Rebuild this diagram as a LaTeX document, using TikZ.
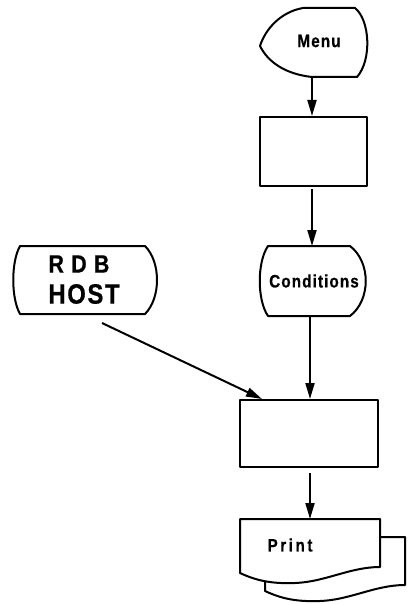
\documentclass[tikz,border=0pt]{standalone}
\usepackage{fontspec}
\setmainfont{Liberation Sans}
\newfontfamily\lblfont{Liberation Sans}[FakeStretch=0.85,FakeBold=0.6]
\usetikzlibrary{arrows.meta}
\begin{document}
\begin{tikzpicture}[x=1pt,y=-1pt, line width=2pt, line join=round,
  arr/.style={-{Triangle[length=16pt,width=9pt]}},
  box/.style={draw, rectangle, inner sep=0pt},
  lbl/.style={font=\lblfont\bfseries\fontsize{#1}{#1}\selectfont\addfontfeature{LetterSpace=6}},
  lbl/.default=18,
  printlbl/.style={font=\lblfont\bfseries\fontsize{18}{18}\selectfont\addfontfeature{LetterSpace=14}}]
\useasboundingbox (0,0) rectangle (407,604);

% Menu (display shape)
\draw (303,8) -- (355,8) .. controls (370,20) and (372,60) .. (357,77) -- (312,77)
  .. controls (285,74) and (268,62) .. (260,46) .. controls (265,30) and (280,12) .. (303,8) -- cycle;
\node[lbl] (menu) at (319,41) {Menu};
\coordinate (menuB) at (312,77);

% first process box
\node[box, minimum width=107pt, minimum height=69pt] (r1) at (313.5,151.5) {};

% Conditions
\draw (268,246) -- (350,246) .. controls (371,262) and (371,300) .. (350,316) -- (268,316)
  .. controls (257,300) and (257,262) .. (268,246) -- cycle;
\node[lbl] (cond) at (314,281) {Conditions};
\coordinate (condT) at (312,246);
\coordinate (condB) at (310,316);

% RDB HOST
\draw (20,246) -- (145,246) .. controls (161,262) and (161,298) .. (145,314) -- (20,314)
  .. controls (11,298) and (11,262) .. (20,246) -- cycle;
\node[lbl=25] (rdb) at (79,264) {R D B};
\node[lbl=28] (host) at (84,294) {HOST};
\coordinate (hostB) at (102,323);

% second process box
\node[box, minimum width=138pt, minimum height=67pt] (r2) at (309,433.5) {};
\coordinate (r2T) at ([xshift=23pt]r2.north west);

% Print (multi-document)
\draw[shift={(25,18)}] (240,519) -- (380,519) -- (380,567)
  .. controls (350,567) and (325,582) .. (295,583) .. controls (270,584) and (255,580) .. (240,573) -- cycle;
\draw[fill=white] (240,519) -- (380,519) -- (380,567)
  .. controls (350,567) and (325,582) .. (295,583) .. controls (270,584) and (255,580) .. (240,573) -- cycle;
\node[printlbl] (print) at (290,545) {Print};
\coordinate (printT) at (310,519);

% connectors
\draw[arr] (menuB) -- (menuB |- r1.north);
\draw[arr, shorten <=2pt] (r1.south -| condT) -- (condT);
\draw[arr] (condB) -- (condB |- r2.north);
\draw[arr, shorten <=5pt] (r2.south -| printT) -- (printT);
\draw[arr] (hostB) -- (r2T);
\end{tikzpicture}
\end{document}
